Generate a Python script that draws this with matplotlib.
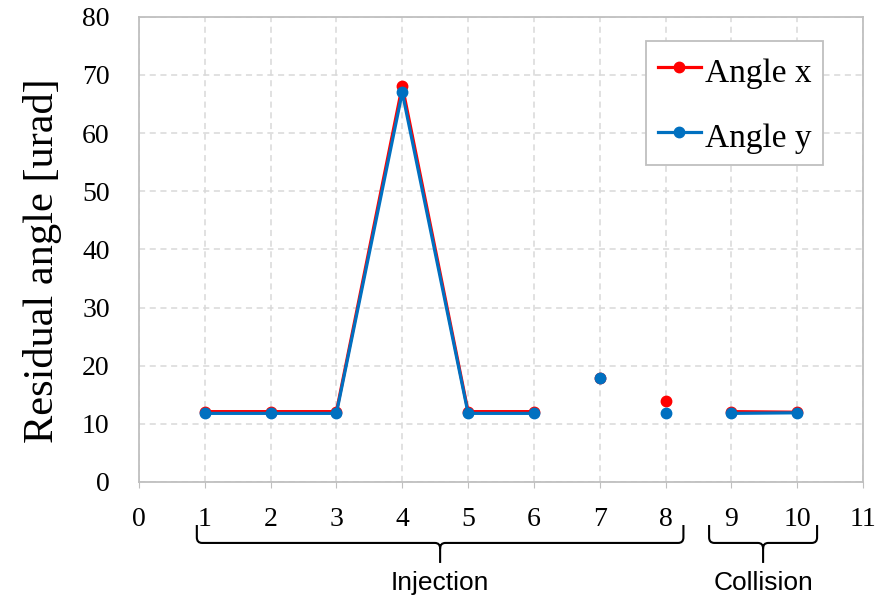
import numpy as np
import matplotlib
matplotlib.use('Agg')
import matplotlib.pyplot as plt
import matplotlib.transforms as mtransforms
from matplotlib.path import Path
from matplotlib.patches import PathPatch

positions = [1, 2, 3, 4, 5, 6, 7, 8, 9, 10]
angle_x = [12.1, 12.1, 12.1, 68.1, 12.1, 12.1, 17.8, 14.0, 12.1, 12.0]
angle_y = [11.8, 11.8, 11.8, 67.0, 11.8, 11.8, 17.8, 11.8, 11.8, 11.9]
# runs of positions that are joined by a line
runs = [(1, 6), (7, 7), (8, 8), (9, 10)]

groups = ['Injection', 'Collision']
group_spans = [(0.88, 8.27), (8.66, 10.30)]

serif = 'Liberation Serif'
sans = 'Liberation Sans'

fig = plt.figure(figsize=(8.79, 5.98), dpi=100)
ax = fig.add_axes([0.158, 0.194, 0.824, 0.778])

pos = np.array(positions)
series = [(angle_x, '#FF0000', 'Angle x'), (angle_y, '#0070C0', 'Angle y')]
for vals, col, lab in series:
	vals = np.array(vals)
	for i, (a, b) in enumerate(runs):
		m = (pos >= a) & (pos <= b)
		ax.plot(pos[m], vals[m], '-', color=col, lw=2.3, marker='o', ms=7.5,
				label=lab if i == 0 else None)

ax.set_xlim(0, 11)
ax.set_ylim(0, 80)
ax.set_xticks(range(0, 12))
ax.set_yticks(range(0, 90, 10))
ax.grid(True, color='#D9D9D9', linestyle=(0, (4, 3)), lw=1.1)
ax.set_axisbelow(True)
for s in ax.spines.values():
	s.set_color('#BFBFBF')
	s.set_linewidth(1.3)
ax.tick_params(axis='x', length=4, color='#BFBFBF', pad=14, labelsize=20)
ax.tick_params(axis='y', length=0, pad=21, labelsize=20)
for t in ax.get_xticklabels() + ax.get_yticklabels():
	t.set_fontfamily(serif)

ax.set_ylabel('Residual angle [urad]', fontsize=30.5, fontfamily=serif)
ax.yaxis.set_label_coords(-0.106, 0.475)

leg = ax.legend(loc='upper left', bbox_to_anchor=(0.700, 0.948), borderaxespad=0,
				prop={'family': serif, 'size': 24}, fancybox=False, edgecolor='#BFBFBF',
				framealpha=1, handlelength=1.3, handleheight=1.3, handletextpad=0.12,
				labelspacing=0.85, borderpad=0.35)
leg.get_frame().set_linewidth(1.3)

# curly brackets under the x axis
trans = mtransforms.blended_transform_factory(ax.transData, ax.transAxes)
top, h, bot = -0.0925, -0.131, -0.174
rx, ry = 0.08, 0.012
for name, (x0, x1) in zip(groups, group_spans):
	tip = (x0 + x1) / 2.0
	verts = [(x0, top), (x0, h + ry), (x0, h), (x0 + rx, h), (tip - rx, h), (tip, h), (tip, h - ry), (tip, bot),
			 (x1, top), (x1, h + ry), (x1, h), (x1 - rx, h), (tip + rx, h), (tip, h), (tip, h - ry)]
	codes = [Path.MOVETO, Path.LINETO, Path.CURVE3, Path.CURVE3, Path.LINETO, Path.CURVE3, Path.CURVE3, Path.LINETO,
			 Path.MOVETO, Path.LINETO, Path.CURVE3, Path.CURVE3, Path.LINETO, Path.CURVE3, Path.CURVE3]
	ax.add_patch(PathPatch(Path(verts, codes), transform=trans, fill=False, lw=1.5,
						   color='black', clip_on=False))
	ax.text(tip, -0.218, name, transform=trans, ha='center', va='center',
			fontsize=19, fontfamily=sans)

fig.savefig('out.png', dpi=100)
